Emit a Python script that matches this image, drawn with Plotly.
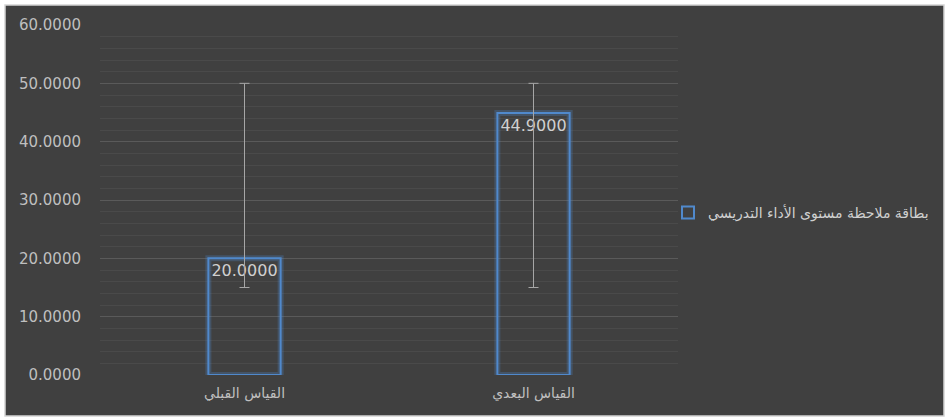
import plotly.graph_objects as go

categories = ["القياس القبلي", "القياس البعدي"]
values = [20.0, 44.9]
err_high = [50.0, 50.0]
err_low = [15.0, 15.0]
series_name = "بطاقة ملاحظة مستوى الأداء التدريسي"
y_ticks = [0, 10, 20, 30, 40, 50, 60]
y_tick_text = ["%.4f" % v for v in y_ticks]

W, H = 949, 419
L, R, T, B = 100, 271, 25, 44
pw, ph = W - L - R, H - T - B

def px_x(x):
    return (x - L) / pw

def px_y(y):
    return (H - B - y) / ph

blue = "#5089cc"
fig = go.Figure()
# glow
fig.add_trace(go.Bar(
    x=categories, y=values, width=0.25,
    marker=dict(color="rgba(0,0,0,0)", line=dict(color="rgba(80,137,204,0.28)", width=6)),
    showlegend=False, hoverinfo="skip"))
fig.add_trace(go.Bar(
    x=categories, y=values, width=0.25, name=series_name,
    marker=dict(color="rgba(0,0,0,0)", line=dict(color=blue, width=2)),
    text=["%.4f" % v for v in values], textposition="inside", insidetextanchor="end",
    textangle=0,
    textfont=dict(family="DejaVu Sans", size=16, color="#d0d0d0"),
    error_y=dict(type="data", symmetric=False,
                 array=[h - v for h, v in zip(err_high, values)],
                 arrayminus=[v - l for l, v in zip(err_low, values)],
                 color="#a6a6a6", thickness=1, width=5)))

fig.update_layout(
    width=W, height=H, barmode="overlay",
    margin=dict(l=L, r=R, t=T, b=B, pad=0),
    paper_bgcolor="#ffffff", plot_bgcolor="rgba(0,0,0,0)",
    showlegend=True,
    legend=dict(x=px_x(668), y=px_y(213), xanchor="left", yanchor="middle",
                font=dict(family="DejaVu Sans", size=14, color="#d0d0d0"),
                bgcolor="rgba(0,0,0,0)", itemwidth=30),
    xaxis=dict(showgrid=False, showline=False, zeroline=False, ticks="",
               ticklabelstandoff=8,
               tickfont=dict(family="DejaVu Sans", size=14, color="#bfbfbf"),
               range=[-0.5, 1.5]),
    yaxis=dict(range=[0, 60], tickvals=y_ticks, ticktext=y_tick_text,
               showgrid=True, gridcolor="#5a5a5a", gridwidth=1, zeroline=False,
               showline=False, ticks="", ticklabelstandoff=18,
               tickfont=dict(family="DejaVu Sans", size=15, color="#bfbfbf"),
               minor=dict(dtick=2, showgrid=True, gridcolor="#4a4a4a", gridwidth=1)),
    shapes=[dict(type="rect", xref="paper", yref="paper",
                 x0=px_x(5), x1=px_x(944), y0=px_y(416), y1=px_y(5),
                 fillcolor="#404040", line=dict(color="#d4d4d4", width=1.5),
                 layer="below")],
)
fig.write_html("out.html")
